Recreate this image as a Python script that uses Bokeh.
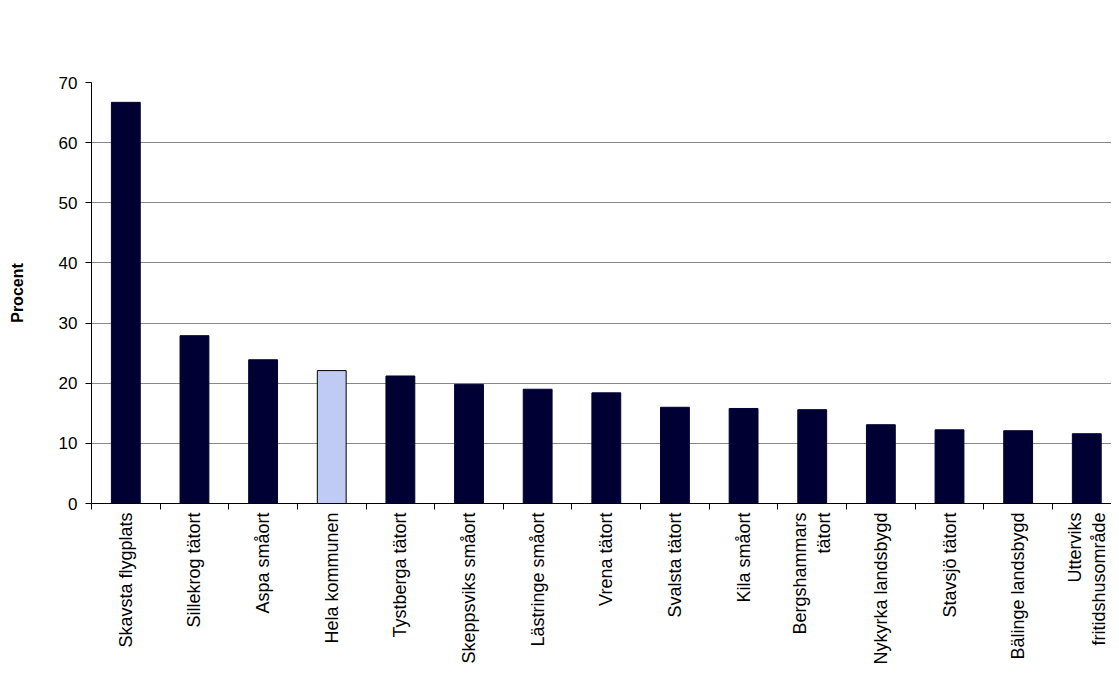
import math
from bokeh.plotting import figure
from bokeh.models import Range1d, FixedTicker, ColumnDataSource, Label
from bokeh.embed import file_html
from bokeh.resources import INLINE

categories = ["Skavsta flygplats", "Sillekrog tätort", "Aspa småort", "Hela kommunen",
              "Tystberga tätort", "Skeppsviks småort", "Lästringe småort", "Vrena tätort",
              "Svalsta tätort", "Kila småort", "Bergshammars\ntätort", "Nykyrka landsbygd",
              "Stavsjö tätort", "Bälinge landsbygd", "Utterviks\nfritidshusområde"]
values = [66.7, 27.9, 23.9, 22.1, 21.2, 19.8, 19.0, 18.4, 16.0, 15.8, 15.6, 13.1, 12.25, 12.1, 11.6]
highlight = "Hela kommunen"
y_ticks = [0, 10, 20, 30, 40, 50, 60, 70]
title_text = "Andel invånare med utländsk bakgrund 2023"

DARK = "#000033"
LIGHT = "#BFCBF2"
FONT = "Liberation Sans"

n = len(categories)
xs = [i + 0.5 for i in range(n)]
fills = [LIGHT if c == highlight else DARK for c in categories]
lines = ["black" if c == highlight else DARK for c in categories]
src = ColumnDataSource(dict(x=xs, top=values, fill=fills, line=lines))

p = figure(width=1111, height=667, output_backend="svg", toolbar_location=None,
           x_range=Range1d(0, n - 0.14), y_range=Range1d(0, 70),
           min_border_left=91, min_border_right=0, min_border_top=82, min_border_bottom=164)
p.outline_line_color = None
p.background_fill_color = "white"
p.border_fill_color = "white"

p.vbar(x="x", top="top", bottom=0, width=0.42, source=src,
       fill_color="fill", line_color="line", line_width=1)

# title drawn as a label positioned above the frame (screen units relative to frame)
p.add_layout(Label(x=517, y=477, x_units="screen", y_units="screen", text=title_text,
                   text_font=FONT, text_font_size="23px", text_font_style="bold",
                   text_color="black", text_align="center", text_baseline="middle"))

# y axis
p.yaxis.ticker = FixedTicker(ticks=y_ticks)
p.yaxis.axis_label = "Procent"
p.yaxis.axis_label_text_font = FONT
p.yaxis.axis_label_text_font_size = "16px"
p.yaxis.axis_label_text_font_style = "bold"
p.yaxis.axis_label_text_color = "black"
p.yaxis.axis_label_standoff = 30
p.yaxis.major_label_text_font = FONT
p.yaxis.major_label_text_font_size = "17px"
p.yaxis.major_label_text_color = "black"
p.yaxis.major_label_standoff = 8
p.yaxis.major_tick_in = 0
p.yaxis.major_tick_out = 6
p.yaxis.minor_tick_line_color = None
p.yaxis.axis_line_color = "black"
p.yaxis.major_tick_line_color = "black"

# x axis
p.xaxis.ticker = FixedTicker(ticks=xs, minor_ticks=list(range(n + 1)))
p.xaxis.major_label_overrides = {x: c for x, c in zip(xs, categories)}
p.xaxis.major_label_orientation = math.pi / 2
p.xaxis.major_label_text_font = FONT
p.xaxis.major_label_text_font_size = "18px"
p.xaxis.major_label_text_color = "black"
p.xaxis.major_label_standoff = 3
p.xaxis.major_tick_in = 0
p.xaxis.major_tick_out = 0
p.xaxis.minor_tick_in = 0
p.xaxis.minor_tick_out = 6
p.xaxis.minor_tick_line_color = "black"
p.xaxis.axis_line_color = "black"

p.xgrid.grid_line_color = None
p.ygrid.ticker = FixedTicker(ticks=y_ticks)
p.ygrid.grid_line_color = "#888888"
p.ygrid.grid_line_width = 1

open("out.html", "w").write(file_html(p, INLINE))
